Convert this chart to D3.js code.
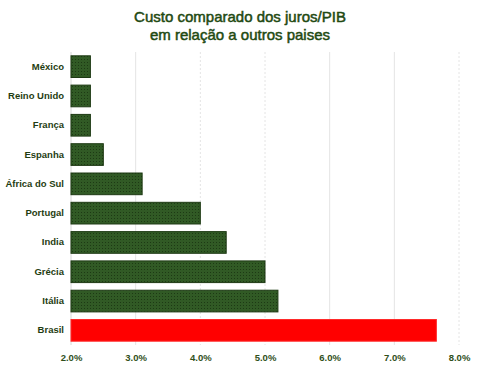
<!DOCTYPE html>
<html>
<head>
<meta charset="utf-8">
<script src="https://cdn.jsdelivr.net/npm/d3@7"></script>
<style>
  body { margin: 0; background: #fff; }
  svg { display: block; font-family: "Liberation Sans", Arial, sans-serif; }
</style>
</head>
<body>
<svg class="chart"></svg>
<script>
// data
var countries = ["México", "Reino Unido", "França", "Espanha", "África do Sul",
                 "Portugal", "India", "Grécia", "Itália", "Brasil"];
var values = [2.3, 2.3, 2.3, 2.5, 3.1, 4.0, 4.4, 5.0, 5.2, 7.65];
var ticks = [2, 3, 4, 5, 6, 7, 8];
var titleLines = ["Custo comparado dos juros/PIB", "em relação a outros paises"];

var margin = {top: 52, right: 21, bottom: 25, left: 71},
  width = 480 - margin.left - margin.right,
  height = 370 - margin.top - margin.bottom;

var svg = d3.select("svg.chart")
  .attr("width", 480)
  .attr("height", 370);

// dotted fill for the green bars
var defs = svg.append("defs");
var pat = defs.append("pattern")
  .attr("id", "dots")
  .attr("width", 3).attr("height", 3)
  .attr("patternUnits", "userSpaceOnUse");
pat.append("rect").attr("width", 3).attr("height", 3).attr("fill", "#315a25");
pat.append("rect").attr("x", 1).attr("y", 1).attr("width", 1).attr("height", 1).attr("fill", "#1d3a14");

// title
svg.append("g").selectAll("text")
  .data(titleLines).enter()
  .append("text")
    .attr("x", 240)
    .attr("y", function(d, i) { return 22 + i * 18; })
    .attr("text-anchor", "middle")
    .style("font-size", "15px")
    .style("fill", "#1f4a12")
    .style("stroke", "#1f4a12")
    .style("stroke-width", "0.5px")
    .text(function(d) { return d; });

var g = svg.append("g")
  .attr("transform", "translate(" + margin.left + "," + margin.top + ")");

var x = d3.scaleLinear().domain([2, 8]).range([0, width]);
var y = d3.scaleBand().domain(countries).range([0, height]).paddingInner(0.26).paddingOuter(0.13);

// gridlines
g.append("g").selectAll("line")
  .data(ticks).enter()
  .append("line")
    .attr("x1", function(d) { return x(d); })
    .attr("x2", function(d) { return x(d); })
    .attr("y1", 0)
    .attr("y2", height)
    .attr("stroke", function(d) { return d === 2 ? "#d8d8d8" : "#e4e4e4"; })
    .attr("stroke-width", 1)
    .attr("stroke-dasharray", function(d) { return (d === 4 || d === 5 || d === 8) ? "2,2" : null; });

// bars
g.append("g").selectAll("rect")
  .data(countries).enter()
  .append("rect")
    .attr("x", x(2))
    .attr("y", function(d) { return y(d); })
    .attr("width", function(d, i) { return x(values[i]) - x(2); })
    .attr("height", y.bandwidth())
    .attr("fill", function(d) { return d === "Brasil" ? "#ff0000" : "url(#dots)"; })
    .attr("stroke", function(d) { return d === "Brasil" ? "#ff2a2a" : "#1e3a14"; })
    .attr("stroke-width", 1);

// y axis labels
var yAxis = g.append("g")
  .call(d3.axisLeft(y).tickSize(0).tickPadding(7));
yAxis.select(".domain").remove();
yAxis.selectAll("text")
  .style("font-size", "9.5px")
  .style("font-weight", "bold")
  .style("fill", "#1f3d12")
  .style("font-family", "Liberation Sans, Arial, sans-serif");

// x axis labels
var xAxis = g.append("g")
  .attr("transform", "translate(0," + height + ")")
  .call(d3.axisBottom(x).tickValues(ticks).tickSize(0).tickPadding(9)
    .tickFormat(function(d) { return d.toFixed(1) + "%"; }));
xAxis.select(".domain").remove();
xAxis.selectAll("text")
  .style("font-size", "9.5px")
  .style("font-weight", "bold")
  .style("fill", "#2f4f1a")
  .style("font-family", "Liberation Sans, Arial, sans-serif");
</script>
</body>
</html>
